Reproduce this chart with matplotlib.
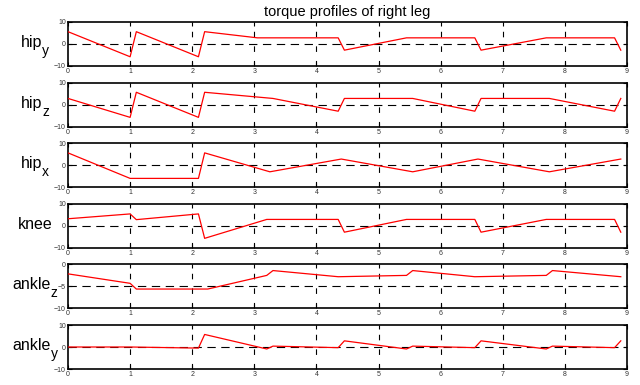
import matplotlib

matplotlib.use("Agg")
import matplotlib.pyplot as plt

# ----------------------------------------------------------------------
# Data (time in s, torque values)
# ----------------------------------------------------------------------
HIPY_T = [0, 1.0, 1.1, 2.1, 2.2, 3.05, 4.35, 4.45, 5.45, 6.55, 6.65, 7.7, 8.8, 8.9]
HIPY_V = [5.6, -5.8, 5.6, -5.8, 5.6, 2.8, 2.8, -2.8, 2.8, 2.8, -2.8, 2.8, 2.8, -2.8]

HIPZ_T = [0, 1.0, 1.1, 2.1, 2.2, 3.3, 4.35, 4.45, 5.55, 6.55, 6.65, 7.75, 8.8, 8.9]
HIPZ_V = [2.8, -5.8, 5.6, -5.8, 5.6, 2.8, -3.0, 2.8, 2.8, -3.0, 2.8, 2.8, -3.0, 2.8]

HIPX_T = [0, 1.0, 2.1, 2.2, 3.25, 4.4, 5.55, 6.6, 7.75, 8.9]
HIPX_V = [5.6, -6.0, -6.0, 5.6, -3.0, 2.8, -3.0, 2.8, -3.0, 2.8]

KNEE_T = [0, 1.0, 1.1, 2.1, 2.2, 3.2, 4.35, 4.45, 5.45, 6.55, 6.65, 7.7, 8.8, 8.9]
KNEE_V = [3.2, 5.4, 2.8, 5.4, -5.7, 2.9, 2.9, -2.9, 2.9, 2.9, -2.9, 2.9, 2.9, -2.9]

ANKZ_T = [0, 1.0, 1.1, 2.25, 3.2, 3.3, 4.35, 5.45, 5.55, 6.55, 7.7, 7.8, 8.9]
ANKZ_V = [-2.15, -4.3, -5.6, -5.6, -2.5, -1.4, -2.8, -2.5, -1.4, -2.8, -2.5, -1.4, -2.8]

ANKY_T = [0, 1.0, 2.1, 2.2, 3.2, 3.3, 4.35, 4.45, 5.45, 5.55, 6.55, 6.65, 7.7, 7.8, 8.8, 8.9]
ANKY_V = [0, 0, -0.5, 5.7, -0.9, 0.4, -0.3, 2.8, -0.9, 0.4, -0.3, 2.8, -0.9, 0.4, -0.3, 2.8]

# (label, subscript, time, torque, ylim, yticks, reference line)
PANELS = [
    ("hip", "y", HIPY_T, HIPY_V, (-10, 10), [-10, 0, 10], 0),
    ("hip", "z", HIPZ_T, HIPZ_V, (-10, 10), [-10, 0, 10], 0),
    ("hip", "x", HIPX_T, HIPX_V, (-10, 10), [-10, 0, 10], 0),
    ("knee", "", KNEE_T, KNEE_V, (-10, 10), [-10, 0, 10], 0),
    ("ankle", "z", ANKZ_T, ANKZ_V, (-10, 0), [-10, -5, 0], -5),
    ("ankle", "y", ANKY_T, ANKY_V, (-10, 10), [-10, 0, 10], 0),
]

plt.rcParams.update(
    {
        "font.family": ["Liberation Sans", "DejaVu Sans"],
        "lines.scale_dashes": False,
    }
)

W, H = 640, 385
fig = plt.figure(figsize=(W / 100, H / 100), dpi=100)
renderer = fig.canvas.get_renderer()

left, right = 68, 627
top0, step, height = 22, 60.6, 44
label_cx = 35  # horizontal centre of the row labels, px

for i, (name, sub, t, v, ylim, yticks, ref) in enumerate(PANELS):
    top = top0 + i * step
    ax = fig.add_axes([left / W, 1 - (top + height) / H, (right - left) / W, height / H])
    ax.set_xlim(0, 9)
    ax.set_ylim(*ylim)
    ax.set_xticks(range(10))
    ax.set_yticks(yticks)
    ax.tick_params(direction="in", top=True, right=True, length=3, width=0.8,
                   labelsize=5, colors="black", labelcolor="#333333", pad=1.5)

    for xg in range(1, 9):
        ax.axvline(xg, color="black", linewidth=0.8, dashes=(4.0, 6.5), zorder=1)
    ax.axhline(ref, color="black", linewidth=0.8, dashes=(6.0, 4.0), zorder=1)
    ax.plot(t, v, color="red", linewidth=0.9, zorder=3)

    for sp in ax.spines.values():
        sp.set_linewidth(1.2)

    # row label with a low, fairly large subscript (pixel coordinates)
    baseline = H - (top + height / 2 + 3)
    base = fig.text(0, baseline / H, name, fontsize=11.5, ha="left", va="baseline")
    wb = base.get_window_extent(renderer).width
    ws = 0
    if sub:
        st = fig.text(0, (baseline + 3) / H, sub, fontsize=10, ha="left", va="top")
        ws = st.get_window_extent(renderer).width
    x0 = label_cx - (wb + ws) / 2
    base.set_x(x0 / W)
    if sub:
        st.set_x((x0 + wb) / W)

    if i == 0:
        ax.set_title("torque profiles of right leg", fontsize=10.5, pad=4)

fig.savefig("out.png", dpi=100)
